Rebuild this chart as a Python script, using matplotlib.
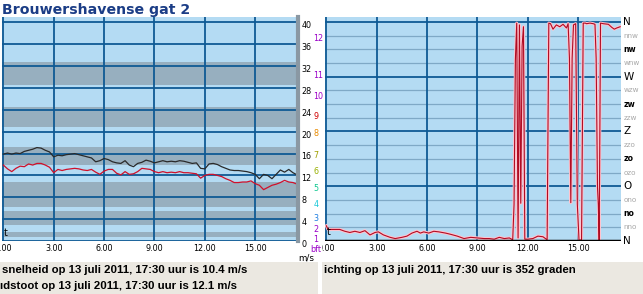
import matplotlib
matplotlib.use("Agg")
import matplotlib.pyplot as plt
from matplotlib.patches import Rectangle
from matplotlib.transforms import Bbox, TransformedBbox

# windsnelheid / windstoot, elk kwartier (uren sinds middernacht)
hours = [0.0, 0.25, 0.5, 0.75, 1.0, 1.25, 1.5, 1.75, 2.0, 2.25, 2.5, 2.75,
         3.0, 3.25, 3.5, 3.75, 4.0, 4.25, 4.5, 4.75, 5.0, 5.25, 5.5, 5.75,
         6.0, 6.25, 6.5, 6.75, 7.0, 7.25, 7.5, 7.75, 8.0, 8.25, 8.5, 8.75,
         9.0, 9.25, 9.5, 9.75, 10.0, 10.25, 10.5, 10.75, 11.0, 11.25, 11.5, 11.75,
         12.0, 12.25, 12.5, 12.75, 13.0, 13.25, 13.5, 13.75, 14.0, 14.25, 14.5, 14.75,
         15.0, 15.25, 15.5, 15.75, 16.0, 16.25, 16.5, 16.75, 17.0, 17.25, 17.5]
gust = [15.9, 16.1, 15.9, 16.1, 16.0, 16.4, 16.6, 16.8, 17.1, 17.0, 16.6, 16.3,
        15.4, 15.7, 15.6, 15.8, 15.9, 16.0, 15.8, 15.6, 15.4, 15.2, 14.5, 14.7,
        15.1, 14.9, 14.5, 14.3, 14.2, 14.7, 13.9, 13.6, 14.2, 14.4, 14.8, 14.6,
        14.3, 14.5, 14.7, 14.5, 14.6, 14.5, 14.7, 14.6, 14.4, 14.2, 14.3, 13.3,
        13.2, 14.1, 14.2, 14.0, 13.6, 13.3, 13.0, 12.9, 12.9, 12.8, 12.7, 12.5,
        12.2, 11.4, 12.2, 12.0, 11.4, 12.2, 13.0, 12.6, 13.1, 12.5, 12.1]
speed = [13.9, 13.2, 12.7, 13.3, 13.7, 13.6, 14.1, 13.9, 14.2, 14.2, 13.9, 13.5,
         12.5, 13.1, 12.9, 13.1, 13.2, 13.3, 13.2, 13.0, 12.9, 13.1, 12.6, 12.2,
         12.8, 13.1, 13.1, 12.4, 12.1, 12.7, 12.2, 12.3, 12.7, 13.3, 13.2, 13.1,
         12.7, 12.5, 12.7, 12.5, 12.6, 12.5, 12.7, 12.5, 12.5, 12.4, 12.3, 11.5,
         12.0, 12.2, 12.2, 12.0, 11.8, 11.4, 11.1, 10.7, 10.7, 10.8, 10.8, 11.0,
         10.5, 10.2, 9.4, 9.8, 10.2, 10.4, 10.7, 11.1, 10.8, 10.7, 10.4]

# windrichting (graden)
dir_hours = [0.0, 0.1, 0.8, 1.1, 1.4, 1.7, 2.0, 2.3, 2.6, 2.9, 3.1, 3.4, 3.8, 4.1, 4.5,
             4.8, 5.1, 5.4, 5.6, 5.8, 6.1, 6.4, 6.7, 7.1, 7.4, 7.8, 8.2, 8.6, 9.0, 9.4,
             9.7, 10.0, 10.3, 10.6, 10.9, 11.1,
             11.18, 11.26, 11.34, 11.42, 11.5, 11.58, 11.66, 11.74, 11.82, 12.0,
             12.3, 12.6, 12.9, 13.15, 13.25, 13.35, 13.5, 13.7, 13.9, 14.1,
             14.3, 14.4, 14.48, 14.56, 14.64, 14.72, 14.85, 14.95, 15.05, 15.2,
             15.3, 15.42, 15.5, 15.7, 15.9, 16.0, 16.07, 16.15, 16.2, 16.25,
             16.33, 16.5, 16.8, 17.0, 17.15, 17.3, 17.5]
dir_deg = [25, 19, 19, 16, 14, 16, 14, 17, 10, 14, 15, 10, 6, 4, 6,
           8, 13, 16, 13, 15, 13, 16, 15, 13, 11, 8, 4, 6, 5, 4,
           4, 3, 6, 4, 5, 2,
           60, 298, 358, 5, 355, 62, 320, 352, 3, 3,
           4, 8, 7, 2, 358, 357, 348, 355, 352, 356,
           350, 357, 300, 63, 300, 355, 357, 60, 1, 2,
           358, 358, 357, 358, 357, 356, 300, 88, 60, 0,
           358, 357, 356, 351, 348, 350, 352]

xticks = [0, 3, 6, 9, 12, 15]
xtick_labels = ["0.00", "3.00", "6.00", "9.00", "12.00", "15.00"]
ms_ticks = [0, 4, 8, 12, 16, 20, 24, 28, 32, 36, 40]
bft_pos = [0.2, 2.1, 4.1, 6.6, 9.6, 12.7, 15.7, 19.7, 22.7, 26.4, 30.3, 37.1]
bft_labels = ["1", "2", "3", "4", "5", "6", "7", "8", "9", "10", "11", "12"]
bft_colors = ["#9a00c8", "#9a00c8", "#1c7ce0", "#18c8d8", "#10c890", "#98b000",
              "#a0a000", "#e88a00", "#d00000", "#a000c8", "#9a00c8", "#9a00c8"]
dark_bands = [(0.7, 1.7), (2.9, 5.4), (6.3, 10.8), (13.9, 17.2), (20.8, 24.5), (28.5, 32.7)]
dir_ticks = [0, 22.5, 45, 67.5, 90, 112.5, 135, 157.5, 180, 202.5, 225, 247.5, 270,
             292.5, 315, 337.5, 360]
dir_labels = ["N", "nno", "no", "ono", "O", "ozo", "zo", "zzo", "Z", "zzw", "zw",
              "wzw", "W", "wnw", "nw", "nnw", "N"]

LIGHT = "#b4dbf3"
DARK = "#97afbf"
GRID = "#0f5a94"
MINOR = "#7fa9c6"

W, H = 643, 294
fig = plt.figure(figsize=(W / 100, H / 100), dpi=100)
fig.patch.set_facecolor("white")

fig.text(2 / W, 1 - 10 / H, "Brouwershavense gat 2", fontsize=10.2, fontweight="bold",
         color="#1b3d86", family="DejaVu Sans", va="center", ha="left")

# --- snelheid ---
ax1 = fig.add_axes([2 / W, 53 / H, 296 / W, 224 / H])
ax1.set_facecolor(LIGHT)
ax1.set_xlim(-0.08, 17.55)
ax1.set_ylim(0, 41)
for lo, hi in dark_bands:
    ax1.axhspan(lo, hi, color=DARK, lw=0, zorder=0.5)
for v in ms_ticks:
    ax1.axhline(v, color=GRID, lw=1.3, zorder=1)
for h in xticks:
    ax1.axvline(h, color=GRID, lw=1.3, zorder=1)
ax1.plot(hours, gust, color="#2a2a2a", lw=0.9, zorder=3)
ax1.plot(hours, speed, color="#d0102a", lw=0.9, zorder=3)
for s in ax1.spines.values():
    s.set_visible(False)
ax1.axvline(17.55, color="#8a98a3", lw=3, zorder=4, clip_on=False)
ax1.set_xticks([])
ax1.set_yticks([])

yt = ax1.get_yaxis_transform()
for v in ms_ticks:
    ax1.text(1.012, v - 0.6, str(v), transform=yt, fontsize=5.8, va="center", ha="left",
             family="DejaVu Sans")
for p, lab, c in zip(bft_pos, bft_labels, bft_colors):
    ax1.text(1.052, p, lab, transform=yt, fontsize=5.8, va="center", ha="left",
             color=c, family="DejaVu Sans")
ax1.text(1.042, -0.04, "bft", transform=ax1.transAxes, fontsize=5.8, color="#9a00c8",
         va="center", ha="left")
ax1.text(1.0, -0.078, "m/s", transform=ax1.transAxes, fontsize=6.3, va="center", ha="left")
ax1.text(0.05, 1.5, "t", fontsize=7, va="center", ha="left", color="black")

# --- richting ---
ax2 = fig.add_axes([325 / W, 53 / H, 296 / W, 224 / H])
ax2.set_facecolor(LIGHT)
ax2.set_xlim(-0.08, 17.55)
ax2.set_ylim(0, 368)
for v in dir_ticks:
    if v % 90 == 0:
        ax2.axhline(v, color=GRID, lw=1.3, zorder=1)
    else:
        ax2.axhline(v, color=MINOR, lw=0.9, zorder=1)
for h in xticks:
    ax2.axvline(h, color=GRID, lw=1.3, zorder=1)
ax2.plot(dir_hours, dir_deg, color="#ffc4cf", lw=2.2, zorder=2)
ax2.plot(dir_hours, dir_deg, color="#b00c24", lw=0.8, zorder=3)
for s in ax2.spines.values():
    s.set_visible(False)
ax2.axhline(0, color="black", lw=2.5, zorder=4)
ax2.set_xticks([])
ax2.set_yticks([])
ax2.text(0.05, 14, "t", fontsize=7, va="center", ha="left", color="black")

yt2 = ax2.get_yaxis_transform()
for v, lab in zip(dir_ticks, dir_labels):
    if v % 90 == 0:
        ax2.text(1.008, v, lab, transform=yt2, fontsize=7.5, va="center", ha="left",
                 family="DejaVu Sans")
    elif v % 45 == 0:
        ax2.text(1.008, v, lab, transform=yt2, fontsize=5.6, va="center", ha="left",
                 family="DejaVu Sans", fontweight="bold")
    else:
        ax2.text(1.008, v, lab, transform=yt2, fontsize=5.2, va="center", ha="left",
                 color="#a8a8a8", family="DejaVu Sans")

# uurlabels; het eerste label valt half weg achter de rand
for ax, left_px in ((ax1, 0), (ax2, 322)):
    xt = ax.get_xaxis_transform()
    box = TransformedBbox(Bbox([[left_px / W, 0], [1, 1]]), fig.transFigure)
    for h, lab in zip(xticks, xtick_labels):
        t = ax.text(h, -0.032, lab, transform=xt, fontsize=5.8, va="center", ha="center",
                    family="DejaVu Sans")
        t.set_clip_box(box)
        t.set_clip_on(True)

# onderste tekstvakken
fig.patches.append(Rectangle((0, 0), 318 / W, 32 / H, transform=fig.transFigure,
                             facecolor="#ebe8e1", edgecolor="none"))
fig.patches.append(Rectangle((322 / W, 0), 321 / W, 32 / H, transform=fig.transFigure,
                             facecolor="#ebe8e1", edgecolor="none"))
bottom_font = dict(fontsize=8.2, fontweight="bold", family="Liberation Sans",
                   va="center", ha="left")
fig.text(2 / W, 24 / H, "snelheid op 13 juli 2011, 17:30 uur is 10.4 m/s", **bottom_font)
fig.text(0 / W, 8 / H, "ıdstoot op 13 juli 2011, 17:30 uur is 12.1 m/s", **bottom_font)
fig.text(324 / W, 24 / H, "ichting op 13 juli 2011, 17:30 uur is 352 graden", **bottom_font)

fig.savefig("out.png", dpi=100)
